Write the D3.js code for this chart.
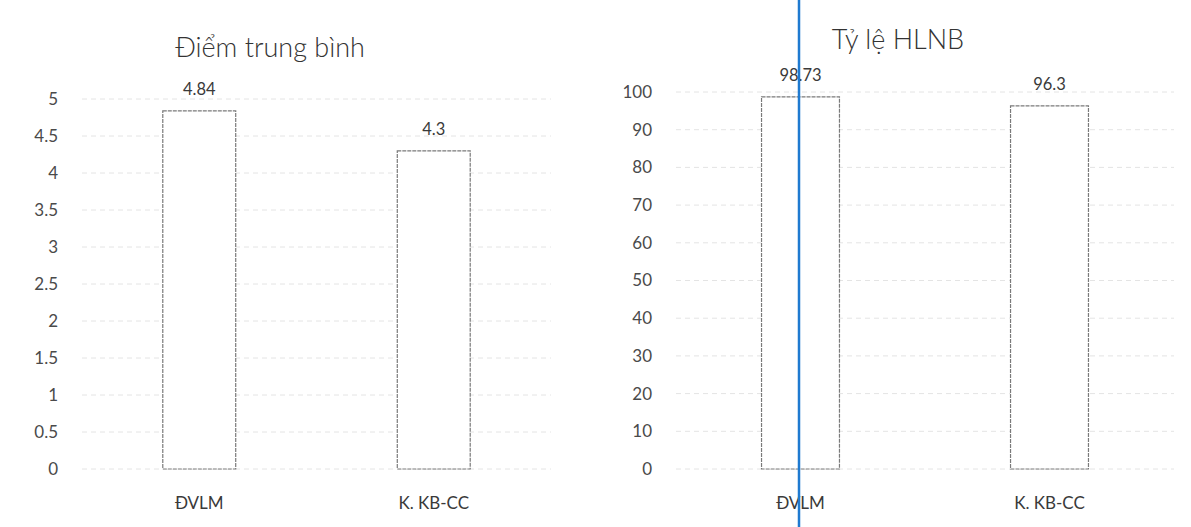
<!DOCTYPE html>
<html>
<head>
<meta charset="utf-8">
<script src="https://cdn.jsdelivr.net/npm/d3@7"></script>
<style>
  body { margin: 0; background: #fff; }
  svg { display: block; font-family: Lato, "Open Sans", sans-serif; }
</style>
</head>
<body>
<div id="chart"></div>
<script>
const W = 1191, H = 527;

// data
const categories = ["ĐVLM", "K. KB-CC"];
const diemTB = [4.84, 4.3];
const tyLe = [98.73, 96.3];
const diemTicks = [0, 0.5, 1, 1.5, 2, 2.5, 3, 3.5, 4, 4.5, 5];
const tyLeTicks = [0, 10, 20, 30, 40, 50, 60, 70, 80, 90, 100];

const svg = d3.select("#chart").append("svg")
    .attr("width", W)
    .attr("height", H);

// one panel = title + grid + bars + labels
function panel(cfg) {
    const g = svg.append("g");

    const x = d3.scaleBand()
        .domain(categories)
        .range(cfg.xRange)
        .padding(0);
    const y = d3.scaleLinear()
        .domain([0, d3.max(cfg.ticks)])
        .range(cfg.yRange);
    const bw = x.bandwidth() * cfg.barRatio;

    // gridlines
    g.append("g")
        .selectAll("line")
        .data(cfg.ticks)
        .join("line")
        .attr("x1", cfg.xRange[0])
        .attr("x2", cfg.xRange[1])
        .attr("y1", d => y(d))
        .attr("y2", d => y(d))
        .attr("stroke", "#e4e4e4")
        .attr("stroke-width", 1)
        .attr("stroke-dasharray", "5,4");

    // tick labels
    g.append("g")
        .selectAll("text")
        .data(cfg.ticks)
        .join("text")
        .attr("x", cfg.labelX)
        .attr("y", d => y(d))
        .attr("dy", "0.35em")
        .attr("text-anchor", "end")
        .attr("font-size", 17)
        .attr("fill", "#4a4a4a")
        .text(d => d);

    // bars
    g.append("g")
        .selectAll("rect")
        .data(cfg.values)
        .join("rect")
        .attr("x", (d, i) => x(categories[i]) + (x.bandwidth() - bw) / 2)
        .attr("y", d => y(d))
        .attr("width", bw)
        .attr("height", d => y(0) - y(d))
        .attr("fill", "#fff")
        .attr("stroke", "#7a7a7a")
        .attr("stroke-width", 1.2)
        .attr("stroke-dasharray", "4,1");

    // value labels
    g.append("g")
        .selectAll("text")
        .data(cfg.values)
        .join("text")
        .attr("x", (d, i) => x(categories[i]) + x.bandwidth() / 2)
        .attr("y", d => y(d) - 22)
        .attr("dy", "0.35em")
        .attr("text-anchor", "middle")
        .attr("font-size", 16.5)
        .attr("fill", "#3a3a3a")
        .text(d => d);

    // category labels
    g.append("g")
        .selectAll("text")
        .data(categories)
        .join("text")
        .attr("x", d => x(d) + x.bandwidth() / 2)
        .attr("y", 503)
        .attr("dy", "0.35em")
        .attr("text-anchor", "middle")
        .attr("font-size", 17)
        .attr("fill", "#3a3a3a")
        .text(d => d);

    // title
    g.append("text")
        .attr("x", cfg.titleX)
        .attr("y", cfg.titleY)
        .attr("dy", "0.35em")
        .attr("text-anchor", "middle")
        .attr("font-size", 27)
        .attr("font-weight", 300)
        .attr("fill", "#333")
        .text(cfg.title);
}

panel({
    title: "Điểm trung bình",
    titleX: 270, titleY: 48,
    values: diemTB,
    ticks: diemTicks,
    xRange: [82, 551],
    yRange: [469, 99],
    barRatio: 0.311,
    labelX: 58
});

panel({
    title: "Tỷ lệ HLNB",
    titleX: 898, titleY: 40,
    values: tyLe,
    ticks: tyLeTicks,
    xRange: [676, 1174],
    yRange: [469, 92],
    barRatio: 0.313,
    labelX: 652
});

// blue marker line across the scan
svg.append("line")
    .attr("x1", 799).attr("x2", 799)
    .attr("y1", 0).attr("y2", H)
    .attr("stroke", "#1f7ad0")
    .attr("stroke-width", 2.5);
</script>
</body>
</html>
